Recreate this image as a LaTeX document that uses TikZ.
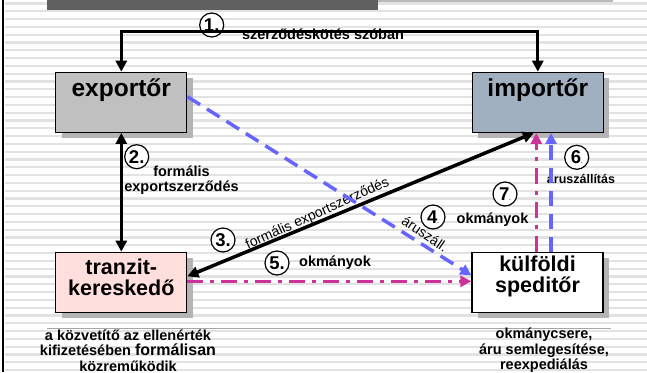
\documentclass[tikz,border=0pt]{standalone}
\usepackage{fontspec}
\setmainfont{Liberation Sans}
\usetikzlibrary{arrows.meta,shadows}
\definecolor{exportgray}{RGB}{192,192,192}
\definecolor{importblue}{RGB}{160,176,192}
\definecolor{tranzitpink}{RGB}{255,222,222}
\definecolor{shadowgray}{RGB}{180,180,180}
\definecolor{stripegray}{RGB}{226,226,226}
\definecolor{bargray}{RGB}{96,96,96}
\definecolor{arublue}{RGB}{102,102,255}
\definecolor{okmmagenta}{RGB}{204,51,153}

\begin{document}
\begin{tikzpicture}[x=1pt,y=-1pt,
    >={Triangle[length=11pt,width=11pt]},
    stripe/.style={stripegray,line width=2.2pt},
    box/.style={draw,line width=1.2pt,minimum width=131pt,minimum height=60pt,inner sep=0pt,
      general shadow={shadow xshift=6pt,shadow yshift=-6pt,fill=shadowgray}},
    boxtext/.style={font=\bfseries\fontsize{24.5}{25}\selectfont,anchor=center},
    boxtextb/.style={font=\bfseries\fontsize{21.5}{21}\selectfont,align=center,anchor=center},
    num/.style={circle,draw,fill=white,line width=1.2pt,inner sep=0pt,minimum size=24pt,
      font=\bfseries\fontsize{18.5}{18}\selectfont},
    lbl/.style={font=\bfseries\fontsize{14.5}{15.5}\selectfont,align=center},
    slbl/.style={font=\fontsize{14}{14}\selectfont},
    thick line/.style={line width=3pt},
    aruline/.style={arublue,line width=3.5pt,dash pattern=on 15pt off 8pt},
    okmline/.style={okmmagenta,line width=3.5pt,dash pattern=on 16pt off 7pt on 4pt off 7pt}]
\useasboundingbox (0,0) rectangle (647,372);
  % Background
\foreach \i in {0,...,47}
  \draw[stripe] (5,3.5+7.8*\i) -- (647,3.5+7.8*\i);
\fill[bargray] (47,0) rectangle (378,9.5);
\fill[gray!55] (378,0) rectangle (613,2);
\draw[line width=2pt] (3.3,0) -- (3.3,372);
  % Boxes
\node[box,fill=exportgray,label={[boxtext,yshift=-18pt]north:exportőr}] (exp) at (121.3,102.3) {};
\node[box,fill=importblue,label={[boxtext,yshift=-18pt]north:importőr}] (imp) at (537.8,102.3) {};
\node[box,fill=tranzitpink,label={[boxtextb,yshift=-25.2pt]north:{tranzit-\\kereskedő}}] (tranzit) at (121.3,282.3) {};
\node[box,fill=white,label={[boxtextb,yshift=-25.2pt]north:{külföldi\\speditőr}}] (kulf) at (537.5,282.3) {};
  % Texts
\node[lbl] (szerz) at (323,34.5) {szerződéskötés szóban};
\node[lbl] (formal) at (181.5,180) {formális\\exportszerződés};
\node[slbl,rotate=24.4,anchor=base west] (formal3) at (245,251) {formális exportszerződés};
\node[slbl,rotate=-34] (aruszall) at (425,234) {áruszáll.};
\node[lbl] (okm5) at (335,262.7) {okmányok};
\node[lbl,font=\bfseries\fontsize{12.5}{13}\selectfont] (aru6) at (581,179) {áruszállítás};
\node[lbl] (okm7) at (492.5,220) {okmányok};
\draw[gray!70,line width=1pt] (47,328.3) -- (611,328.3);
\node[lbl] (kozvetito) at (128,350.3) {a közvetítő az ellenérték\\kifizetésében {\fontsize{16}{16}\selectfont formálisan}\\közreműködik};
\node[lbl] (csere) at (544,350.3) {okmánycsere,\\áru semlegesítése,\\reexpediálás};
  % Numbers
\node[num] (n1) at (211.7,25) {1.};
\node[num] (n2) at (136.7,156.7) {2.};
\node[num] (n3) at (223,240) {3.};
\node[num] (n4) at (433,217) {4{\tiny.}};
\node[num] (n5) at (277,263) {5.};
\node[num] (n6) at (576.7,157.3) {6{\tiny.}};
\node[num] (n7) at (505,194) {7{\tiny.}};
  % Arrows
\coordinate (top) at (330,31.7);
\draw[thick line,<->] (exp.north) |- (top) -| (imp.north);
\draw[thick line,<->] (exp.south) -- (tranzit.north);
\draw[aruline,->] ([yshift=5.6pt]exp.east) -- ([yshift=7pt]kulf.west);
\draw[okmline,->] ([yshift=1pt]tranzit.east) -- ([yshift=1pt]kulf.west);
\draw[okmline,->] ([xshift=-1.2pt]kulf.north) -- ([xshift=-1.2pt]kulf.north |- imp.south);
\draw[aruline,->] ([xshift=13.5pt]kulf.north) -- ([xshift=13.5pt]kulf.north |- imp.south);
\draw[line width=3.5pt,<->] ([xshift=-4pt]imp.south) -- ([yshift=6pt]tranzit.east);
\end{tikzpicture}
\end{document}
